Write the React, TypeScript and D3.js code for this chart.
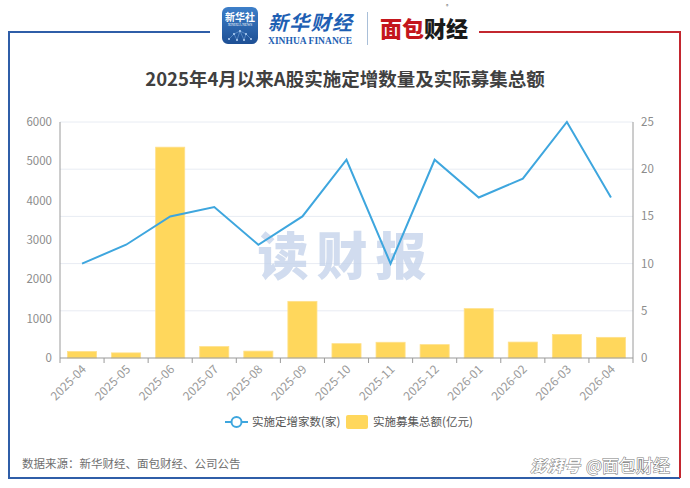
import React, { useEffect, useRef } from "react";
import * as d3 from "d3";

const categories = ["2025-04","2025-05","2025-06","2025-07","2025-08","2025-09","2025-10","2025-11","2025-12","2026-01","2026-02","2026-03","2026-04"];
const counts = [10, 12, 15, 16, 12, 15, 21, 10, 21, 17, 19, 25, 17];
const amounts = [165, 130, 5360, 290, 175, 1440, 365, 400, 340, 1255, 405, 600, 525];
const leftTicks = [0, 1000, 2000, 3000, 4000, 5000, 6000];
const rightTicks = [0, 5, 10, 15, 20, 25];
const title = "2025年4月以来A股实施定增数量及实际募集总额";
const legendLine = "实施定增家数(家)";
const legendBar = "实施募集总额(亿元)";
const source = "数据来源：新华财经、面包财经、公司公告";

const W = 690, H = 488;
const FONT = "'Noto Sans CJK SC', 'Noto Sans', sans-serif";

export default function App() {
  const ref = useRef<SVGSVGElement | null>(null);
  useEffect(() => {
    const svg = d3.select(ref.current);
    svg.selectAll("*").remove();
    const left = 60, right = 633, top = 122, bottom = 358;

    const x = d3.scaleBand<string>().domain(categories).range([left, right]).paddingInner(0.34).paddingOuter(0.17);
    const xb = d3.scaleBand<string>().domain(categories).range([left, right]);
    const yL = d3.scaleLinear().domain([0, 6000]).range([bottom, top]);
    const yR = d3.scaleLinear().domain([0, 25]).range([bottom, top]);

    // frame
    const blue = "#2f5ea8", red = "#c3272f";
    svg.append("line").attr("x1", 9).attr("x2", 210).attr("y1", 32).attr("y2", 32).attr("stroke", blue).attr("stroke-width", 2);
    svg.append("line").attr("x1", 9).attr("x2", 9).attr("y1", 31).attr("y2", 478).attr("stroke", blue).attr("stroke-width", 2);
    svg.append("line").attr("x1", 8).attr("x2", 680).attr("y1", 478).attr("y2", 478).attr("stroke", blue).attr("stroke-width", 2);
    svg.append("line").attr("x1", 479).attr("x2", 680).attr("y1", 32).attr("y2", 32).attr("stroke", red).attr("stroke-width", 2);
    svg.append("line").attr("x1", 680).attr("x2", 680).attr("y1", 31).attr("y2", 478).attr("stroke", red).attr("stroke-width", 2);

    // header logos
    const defs = svg.append("defs");
    const grad = defs.append("linearGradient").attr("id", "appg").attr("x1", "0").attr("y1", "0").attr("x2", "0").attr("y2", "1");
    grad.append("stop").attr("offset", "0").attr("stop-color", "#3d7fc9");
    grad.append("stop").attr("offset", "1").attr("stop-color", "#1d4f94");
    const lg = svg.append("g");
    lg.append("rect").attr("x", 222).attr("y", 7).attr("width", 36).attr("height", 37).attr("rx", 6).attr("fill", "url(#appg)");
    lg.append("text").attr("x", 240).attr("y", 21).attr("text-anchor", "middle").attr("font-family", FONT).attr("font-size", 10).attr("font-weight", 700).attr("fill", "#fff").text("新华社");
    lg.append("text").attr("x", 240).attr("y", 26).attr("text-anchor", "middle").attr("font-family", "'Liberation Serif', serif").attr("font-size", 3.5).attr("fill", "#fff").text("XINHUA NEWS");
    const dots: [number, number][] = [[229, 39], [234, 34], [240, 31], [246, 34], [251, 39], [237, 40], [244, 40]];
    dots.forEach(([cx, cy]) => lg.append("circle").attr("cx", cx).attr("cy", cy).attr("r", 0.9).attr("fill", "#cfe4ff"));
    lg.append("path").attr("d", "M229,39 L234,34 L240,31 L246,34 L251,39 M234,34 L237,40 L240,31 L244,40 L246,34").attr("stroke", "#9cc6f2").attr("stroke-width", 0.4).attr("fill", "none");
    lg.append("text").attr("x", 268).attr("y", 30).attr("font-family", FONT).attr("font-size", 20).attr("font-weight", 700).attr("font-style", "italic").attr("fill", "#1e5fb3").attr("textLength", 84).text("新华财经");
    lg.append("text").attr("x", 268).attr("y", 44).attr("font-family", "'Liberation Serif', serif").attr("font-size", 9.5).attr("font-weight", 700).attr("fill", "#1e5fb3").attr("textLength", 84).text("XINHUA FINANCE");
    lg.append("line").attr("x1", 367.5).attr("x2", 367.5).attr("y1", 12).attr("y2", 45).attr("stroke", "#a9bfd8").attr("stroke-width", 1);
    lg.append("text").attr("x", 380).attr("y", 37).attr("font-family", FONT).attr("font-size", 22).attr("font-weight", 900).attr("fill", "#c4161c").text("面包");
    lg.append("text").attr("x", 424).attr("y", 37).attr("font-family", FONT).attr("font-size", 22).attr("font-weight", 900).attr("fill", "#1a1a1a").text("财经");
    lg.append("text").attr("x", 446).attr("y", 8).attr("font-family", FONT).attr("font-size", 5).attr("fill", "#555").text("®");

    // title
    svg.append("text").attr("x", 345).attr("y", 86).attr("text-anchor", "middle").attr("font-family", FONT)
      .attr("font-size", 18.5).attr("font-weight", 700).attr("fill", "#404040").text(title);

    // gridlines
    svg.append("g").selectAll("line").data(rightTicks.filter(t => t > 0)).join("line")
      .attr("x1", left).attr("x2", right).attr("y1", d => yR(d)).attr("y2", d => yR(d))
      .attr("stroke", "#e8ecf3").attr("stroke-width", 1);

    // bars
    svg.append("g").selectAll("rect").data(categories).join("rect")
      .attr("x", d => x(d)!).attr("width", x.bandwidth())
      .attr("y", (d, i) => yL(amounts[i])).attr("height", (d, i) => bottom - yL(amounts[i]))
      .attr("fill", "#ffd75c").attr("stroke", "#ffe08a").attr("stroke-width", 0.8);

    // watermark
    svg.append("text").attr("x", 346).attr("y", 275).attr("text-anchor", "middle").attr("font-family", FONT)
      .attr("font-size", 51).attr("font-weight", 900).attr("fill", "#c2d1ea").attr("opacity", 0.75)
      .attr("letter-spacing", 8).text("读财报");

    // axes
    const axisColor = "#9a9a9a";
    svg.append("line").attr("x1", left).attr("x2", left).attr("y1", top).attr("y2", bottom).attr("stroke", axisColor);
    svg.append("line").attr("x1", right).attr("x2", right).attr("y1", top).attr("y2", bottom).attr("stroke", axisColor);
    svg.append("line").attr("x1", left).attr("x2", right).attr("y1", bottom).attr("y2", bottom).attr("stroke", axisColor).attr("stroke-width", 1.2);
    const bounds = categories.map(c => xb(c)!).concat([right]);
    svg.append("g").selectAll("line").data(bounds).join("line")
      .attr("x1", d => d).attr("x2", d => d).attr("y1", bottom).attr("y2", bottom + 5).attr("stroke", axisColor);

    svg.append("g").selectAll("text").data(leftTicks).join("text")
      .attr("x", 52).attr("y", d => yL(d)).attr("dy", "0.35em").attr("text-anchor", "end")
      .attr("font-family", FONT).attr("font-size", 11.5).attr("fill", "#8c8c8c").text(d => String(d));
    svg.append("g").selectAll("text").data(rightTicks).join("text")
      .attr("x", 641).attr("y", d => yR(d)).attr("dy", "0.35em").attr("text-anchor", "start")
      .attr("font-family", FONT).attr("font-size", 11.5).attr("fill", "#8c8c8c").text(d => String(d));

    svg.append("g").selectAll("text").data(categories).join("text")
      .attr("transform", d => `translate(${xb(d)! + xb.bandwidth() / 2 + 2},${bottom + 9}) rotate(-45)`)
      .attr("text-anchor", "end").attr("dy", "0.35em")
      .attr("font-family", FONT).attr("font-size", 12).attr("fill", "#9a9a9a").text(d => d);

    // line
    const line = d3.line<number>()
      .x((d, i) => xb(categories[i])! + xb.bandwidth() / 2)
      .y(d => yR(d));
    svg.append("path").datum(counts).attr("d", line).attr("fill", "none")
      .attr("stroke", "#3ea6de").attr("stroke-width", 2);

    // legend
    const ly = 422;
    svg.append("line").attr("x1", 225).attr("x2", 248).attr("y1", ly).attr("y2", ly).attr("stroke", "#3ea6de").attr("stroke-width", 2);
    svg.append("circle").attr("cx", 236.5).attr("cy", ly).attr("r", 5).attr("fill", "#fff").attr("stroke", "#3ea6de").attr("stroke-width", 2);
    svg.append("text").attr("x", 252).attr("y", ly).attr("dy", "0.35em").attr("font-family", FONT).attr("font-size", 11.5).attr("fill", "#555").text(legendLine);
    svg.append("rect").attr("x", 346).attr("y", 415).attr("width", 22).attr("height", 14).attr("rx", 2).attr("fill", "#ffd75c");
    svg.append("text").attr("x", 373).attr("y", ly).attr("dy", "0.35em").attr("font-family", FONT).attr("font-size", 11.5).attr("fill", "#555").text(legendBar);

    // footer
    svg.append("text").attr("x", 22).attr("y", 464).attr("dy", "0.35em").attr("font-family", FONT).attr("font-size", 11.5).attr("fill", "#6f6f6f").text(source);

    const wm = svg.append("g");
    wm.append("text").attr("x", 530).attr("y", 472).attr("font-family", FONT).attr("font-size", 16).attr("font-weight", 700)
      .attr("font-style", "italic").attr("fill", "#fff").attr("stroke", "#8a8a8a").attr("stroke-width", 1.1)
      .attr("paint-order", "stroke").attr("textLength", 50).text("澎湃号");
    wm.append("text").attr("x", 586).attr("y", 472).attr("font-family", FONT).attr("font-size", 17)
      .attr("fill", "#fff").attr("stroke", "#7a7a7a").attr("stroke-width", 1.1)
      .attr("paint-order", "stroke").text("@面包财经");
  }, []);

  return (
    <div style={{ position: "fixed", left: 0, top: 0, width: W, height: H, background: "#fff" }}>
      <svg ref={ref} width={W} height={H} viewBox={`0 0 ${W} ${H}`} />
    </div>
  );
}
